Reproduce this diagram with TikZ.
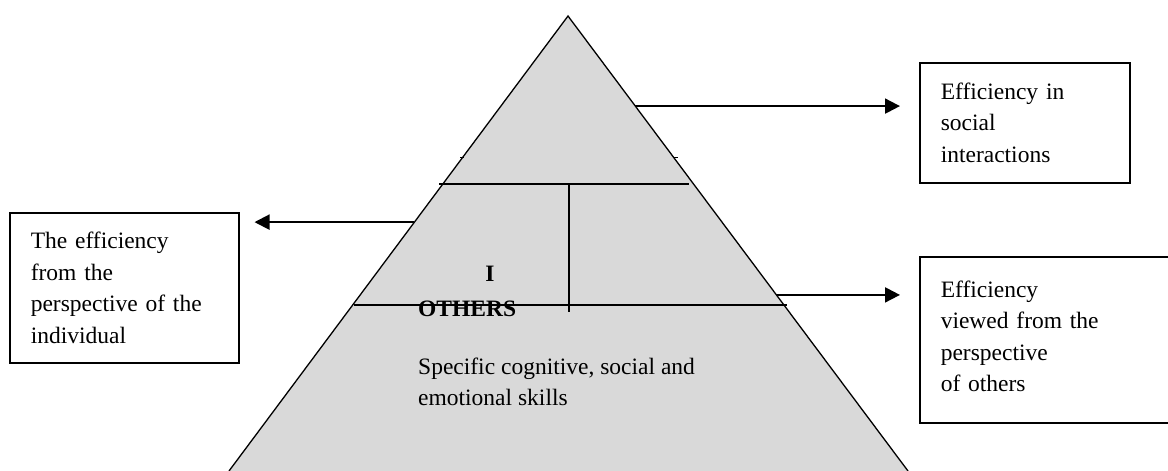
\documentclass[tikz,border=0pt]{standalone}
\usepackage{fontspec}
\setmainfont{Liberation Serif}
\usetikzlibrary{arrows.meta,positioning,calc}

\begin{document}
\begin{tikzpicture}[x=1pt,y=-1pt]
\tikzset{
    box/.style={draw,line width=1.5pt,anchor=north west,align=left,inner xsep=21pt,
        font=\fontsize{23.5}{31.5}\selectfont},
    txt/.style={inner sep=0pt,font=\fontsize{23.5}{31}\selectfont},
    level/.style={line width=1.3pt},
    pointer/.style={line width=2pt,-{Triangle[length=15pt,width=15pt]}}
}
\useasboundingbox (0,0) rectangle (1168,471);
  % pyramid
\coordinate (apex) at (568,16);
\coordinate (bl) at (229,471);
\coordinate (br) at (908,471);
\fill[gray!30] (apex) -- (bl) -- (br) -- cycle;
\draw[line width=1.3pt] (bl) -- (apex) -- (br);
% levels
\draw[level] (439,184) -- (689,184);
\draw[level] (354,305) -- (787,305);
\draw[level] (569,184) -- (569,312);
\draw[line width=1pt] (460,157) -- (464,157);
\draw[line width=1pt] (673,157) -- (678,157);
% texts
\node[txt,font=\fontsize{23.5}{31}\selectfont\bfseries,anchor=base] (i) at (490,281) {I};
\node[txt,font=\fontsize{23.5}{31}\selectfont\bfseries,anchor=base west] (others) at (418,316) {OTHERS};
\node[txt,anchor=north west,align=left] (skills) at (418,358)
    {Specific cognitive, social and\\emotional skills};
% boxes
\node[box,minimum width=210pt,minimum height=120pt,text width=168pt] (social) at (919,62)
    {Efficiency in\\social\\interactions};
\node[box,minimum width=260pt,minimum height=166pt,text width=218pt] (view) at (919,256)
    {Efficiency\\viewed from the\\perspective\\of others\\[-24pt]\mbox{}};
\node[box,minimum width=229pt,minimum height=150pt,text width=187pt] (indiv) at (9,212)
    {The efficiency\\from the\\perspective of the\\individual};
% arrows
\coordinate (e1) at ($(apex)!0.198!(br)$);
\coordinate (e2) at ($(apex)!0.613!(br)$);
\coordinate (e3) at ($(apex)!0.453!(bl)$);
\draw[pointer,shorten >=19pt] (e1) -- (e1 -| social.west);
\draw[pointer,shorten >=19pt] (e2) -- (e2 -| view.west);
\draw[pointer,shorten >=15pt] (e3) -- (e3 -| indiv.east);
\end{tikzpicture}
\end{document}
